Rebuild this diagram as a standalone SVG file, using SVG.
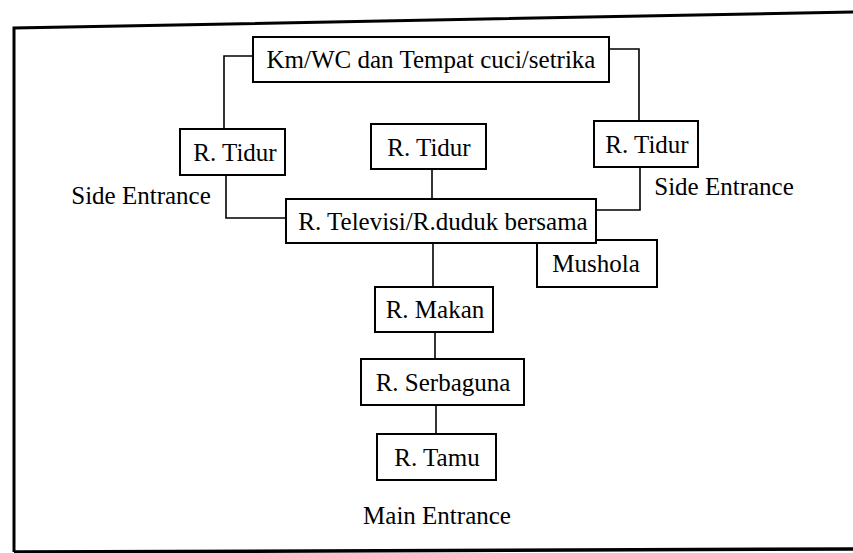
<svg xmlns="http://www.w3.org/2000/svg" width="853" height="553" viewBox="0 0 853 553">
<style>
.box{fill:#fff;stroke:#000;stroke-width:2}
.t{font-family:"Liberation Serif","Times New Roman",serif;font-size:25px;fill:#000;text-anchor:middle}
.c{fill:none;stroke:#000;stroke-width:1.6}
</style>
<rect x="0" y="0" width="853" height="553" fill="#fff"/>
<g id="frame" fill="none" stroke="#000">
<path d="M14,552 L14,28 L853,12" stroke-width="3"/>
<path d="M14,552 L853,549" stroke-width="3.5"/>
</g>
<g id="connectors">
<path class="c" d="M253,56 H224 V129"/>
<path class="c" d="M609,49 H639 V121"/>
<path class="c" d="M226,175 V218 H286"/>
<path class="c" d="M432,169 V199"/>
<path class="c" d="M640,167 V210 H596"/>
<path class="c" d="M433,243 V287"/>
<path class="c" d="M435,332 V359"/>
<path class="c" d="M436,405 V434"/>
</g>
<g id="kmwc"><rect class="box" x="253" y="37" width="356" height="45"/><text class="t" x="431" y="68">Km/WC dan Tempat cuci/setrika</text></g>
<g id="tidur-left"><rect class="box" x="180" y="129" width="105" height="46"/><text class="t" x="235" y="161">R. Tidur</text></g>
<g id="tidur-mid"><rect class="box" x="371" y="124" width="115" height="45"/><text class="t" x="429" y="156">R. Tidur</text></g>
<g id="tidur-right"><rect class="box" x="594" y="121" width="104" height="46"/><text class="t" x="647" y="153">R. Tidur</text></g>
<g id="side-left"><text class="t" x="141" y="204">Side Entrance</text></g>
<g id="side-right"><text class="t" x="724" y="195">Side Entrance</text></g>
<g id="mushola"><rect class="box" x="537" y="240" width="120" height="47"/><text class="t" x="596" y="272">Mushola</text></g>
<g id="televisi"><rect class="box" x="286" y="199" width="310" height="44"/><text class="t" x="443" y="230">R. Televisi/R.duduk bersama</text></g>
<g id="makan"><rect class="box" x="375" y="287" width="118" height="45"/><text class="t" x="435" y="318">R. Makan</text></g>
<g id="serbaguna"><rect class="box" x="361" y="359" width="163" height="46"/><text class="t" x="443" y="391">R. Serbaguna</text></g>
<g id="tamu"><rect class="box" x="377" y="434" width="119" height="46"/><text class="t" x="437" y="466">R. Tamu</text></g>
<g id="main-entrance"><text class="t" x="437" y="524">Main Entrance</text></g>
</svg>
